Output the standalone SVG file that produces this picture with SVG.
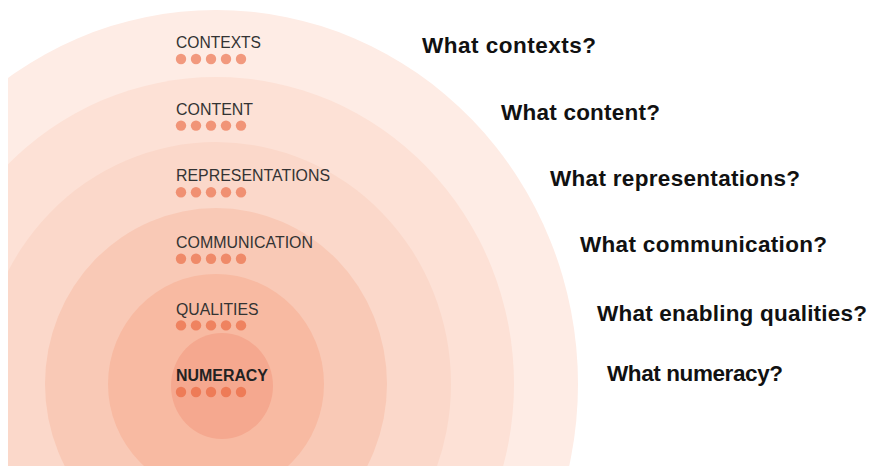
<svg xmlns="http://www.w3.org/2000/svg" width="873" height="466" viewBox="0 0 873 466">
  <defs>
    <clipPath id="frame">
      <rect x="8" y="0" width="865" height="466"/>
    </clipPath>
    <g id="dots">
      <circle cx="0" cy="0" r="5.2"/>
      <circle cx="15" cy="0" r="5.2"/>
      <circle cx="30" cy="0" r="5.2"/>
      <circle cx="45" cy="0" r="5.2"/>
      <circle cx="60" cy="0" r="5.2"/>
    </g>
  </defs>
  <style>
    .lbl { font-family: "Liberation Sans", Arial, sans-serif; font-size: 16px; fill: #333333; }
    .lbl.bold { font-weight: bold; fill: #222222; }
    .q { font-family: "Liberation Sans", Arial, sans-serif; font-size: 22.5px; font-weight: bold; fill: #111111; }
    .dots { fill: rgb(232,85,41); fill-opacity: 0.55; }
  </style>
  <rect x="0" y="0" width="873" height="466" fill="#ffffff"/>
  <g clip-path="url(#frame)">
    <g id="contexts">
      <ellipse cx="216" cy="384" rx="362" ry="374" fill="#feece5"/>
      <text class="lbl" x="176" y="48.3" textLength="85" lengthAdjust="spacingAndGlyphs">CONTEXTS</text>
      <use href="#dots" class="dots" x="181" y="59"/>
      <text class="q" x="422" y="53" textLength="174" lengthAdjust="spacing">What contexts?</text>
    </g>
    <g id="content">
      <ellipse cx="216" cy="384" rx="298" ry="307" fill="#fde1d6"/>
      <text class="lbl" x="176" y="114.8" textLength="77" lengthAdjust="spacingAndGlyphs">CONTENT</text>
      <use href="#dots" class="dots" x="181" y="125.6"/>
      <text class="q" x="501" y="120" textLength="159" lengthAdjust="spacing">What content?</text>
    </g>
    <g id="representations">
      <ellipse cx="216" cy="384" rx="235" ry="242" fill="#fbd8ca"/>
      <text class="lbl" x="176" y="181.4" textLength="154" lengthAdjust="spacingAndGlyphs">REPRESENTATIONS</text>
      <use href="#dots" class="dots" x="181" y="192.2"/>
      <text class="q" x="550" y="186" textLength="250" lengthAdjust="spacing">What representations?</text>
    </g>
    <g id="communication">
      <ellipse cx="216" cy="384" rx="171" ry="176" fill="#f9c9b6"/>
      <text class="lbl" x="176" y="248" textLength="137" lengthAdjust="spacingAndGlyphs">COMMUNICATION</text>
      <use href="#dots" class="dots" x="181" y="258.8"/>
      <text class="q" x="580" y="252" textLength="247" lengthAdjust="spacing">What communication?</text>
    </g>
    <g id="qualities">
      <ellipse cx="216" cy="384" rx="108" ry="110" fill="#f8baa2"/>
      <text class="lbl" x="176" y="314.6" textLength="82.6" lengthAdjust="spacingAndGlyphs">QUALITIES</text>
      <use href="#dots" class="dots" x="181" y="325.4"/>
      <text class="q" x="597" y="320.5" textLength="270" lengthAdjust="spacing">What enabling qualities?</text>
    </g>
    <g id="numeracy">
      <ellipse cx="222" cy="386" rx="51" ry="53" fill="#f5a88f"/>
      <text class="lbl bold" x="176" y="381.2" textLength="92" lengthAdjust="spacingAndGlyphs">NUMERACY</text>
      <use href="#dots" class="dots" x="181" y="392"/>
      <text class="q" x="607" y="380.5" textLength="176" lengthAdjust="spacing">What numeracy?</text>
    </g>
  </g>
  <g id="connectors"/>
</svg>
